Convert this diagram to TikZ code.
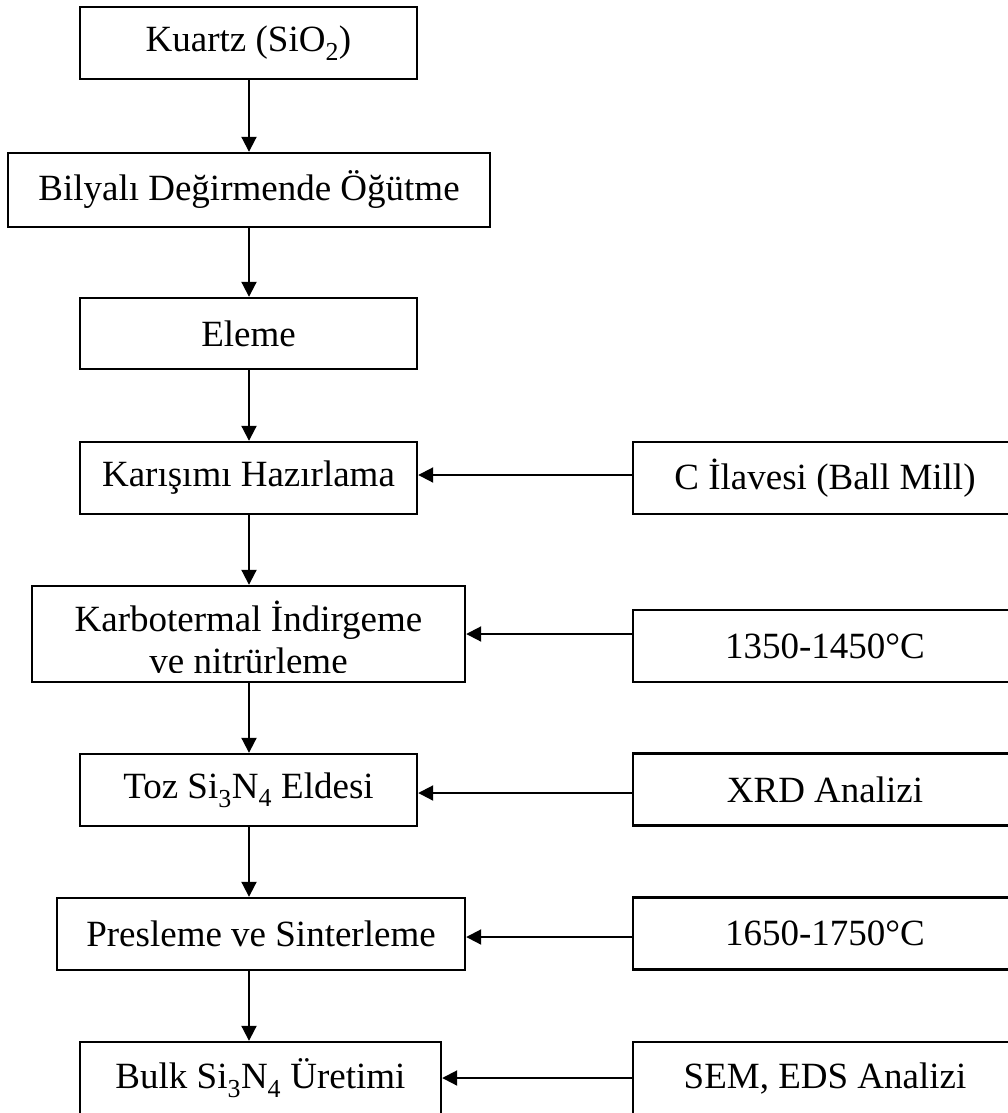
\documentclass[tikz,border=0pt]{standalone}
\usepackage{fontspec}
\setmainfont{Liberation Serif}
\usetikzlibrary{arrows.meta}
\tikzset{
  stepbox/.style={draw, line width=2.4pt, minimum height=72pt, inner sep=0pt, anchor=center,
                  font=\fontsize{37}{42}\selectfont},
  flow/.style={line width=2pt, -{Triangle[length=15pt,width=15pt]}},
  txt/.style={inner sep=0pt, font=\fontsize{37}{42}\selectfont},
}
\begin{document}
\begin{tikzpicture}[x=1pt,y=-1pt]
\clip (0,0) rectangle (1008,1113);
\fill[white] (0,0) rectangle (1008,1113);
% left column
\node[stepbox, minimum width=337pt] (k1) at (248.5,43) {Kuartz (SiO\textsubscript{2})};
\node[stepbox, minimum width=482pt, minimum height=74pt] (k2) at (249,190) {Bilyalı Değirmende Öğütme};
\node[stepbox, minimum width=337pt, minimum height=71pt] (k3) at (248.5,333.5) {Eleme};
\node[stepbox, minimum width=337pt] (k4) at (248.5,478) {Karışımı Hazırlama};
\node[stepbox, minimum width=433pt, minimum height=96pt] (k5) at (248.5,634) {};
\node[txt, anchor=base] (k5a) at (248.5,631) {Karbotermal İndirgeme};
\begin{scope}
  \clip (40,640) rectangle (460,672.5);
  \node[txt, anchor=base] (k5b) at (248.5,673.5) {ve nitrürleme};
\end{scope}
\node[stepbox, minimum width=337pt] (k6) at (248.5,790) {Toz Si\textsubscript{3}N\textsubscript{4} Eldesi};
\node[stepbox, minimum width=408pt] (k7) at (261,934) {Presleme ve Sinterleme};
\node[stepbox, minimum width=361pt] (k8) at (260.5,1078) {Bulk Si\textsubscript{3}N\textsubscript{4} Üretimi};
% right column
\node[stepbox, minimum width=384pt] (r1) at (825,478) {C İlavesi (Ball Mill)};
\node[stepbox, minimum width=384pt] (r2) at (825,646) {1350-1450°C};
\node[stepbox, minimum width=384pt] (r3) at (825,789.5) {XRD Analizi};
\node[stepbox, minimum width=384pt] (r4) at (825,933.5) {1650-1750°C};
\node[stepbox, minimum width=384pt] (r5) at (825,1078) {SEM, EDS Analizi};
% vertical arrows
\coordinate (cx) at (249,0);
\draw[flow] (k1.south -| cx) -- (k2.north -| cx);
\draw[flow] (k2.south -| cx) -- (k3.north -| cx);
\draw[flow] (k3.south -| cx) -- (k4.north -| cx);
\draw[flow] (k4.south -| cx) -- (k5.north -| cx);
\draw[flow] (k5.south -| cx) -- (k6.north -| cx);
\draw[flow] (k6.south -| cx) -- (k7.north -| cx);
\draw[flow] (k7.south -| cx) -- (k8.north -| cx);
% horizontal arrows
\draw[flow] (r1.west |- 0,475) -- (k4.east |- 0,475);
\draw[flow] (r2.west |- k5.east) -- (k5.east);
\draw[flow] (r3.west |- 0,793) -- (k6.east |- 0,793);
\draw[flow] (r4.west |- 0,937) -- (k7.east |- 0,937);
\draw[flow] (r5.west |- k8.east) -- (k8.east);
\end{tikzpicture}
\end{document}
